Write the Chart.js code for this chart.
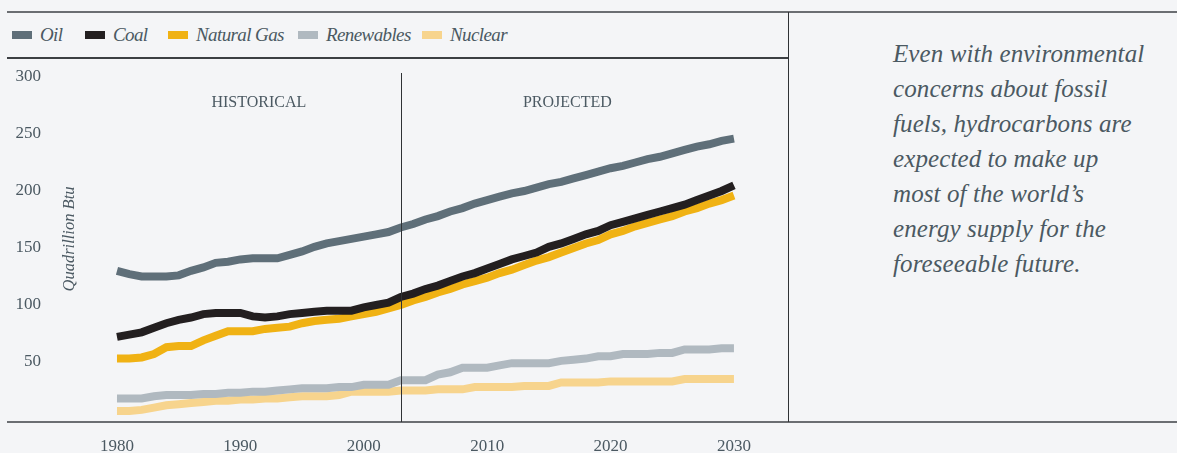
<!DOCTYPE html>
<html>
<head>
<meta charset="utf-8">
<script src="https://cdn.jsdelivr.net/npm/chart.js@4"></script>
<style>
  html, body { margin: 0; padding: 0; }
  body { width: 1177px; height: 453px; background: #f4f5f7; position: relative; overflow: hidden;
         font-family: "Liberation Serif", "DejaVu Serif", serif; color: #4b5962; }
  .rule { position: absolute; background: #6b6e72; }
  #legend { position: absolute; left: 0; top: 24px; height: 22px; width: 788px;
            font-style: italic; font-size: 19px; white-space: nowrap; }
  #legend .item { position: absolute; top: 0; display: flex; align-items: center; height: 22px; letter-spacing: -0.6px; }
  #legend .sw { width: 20px; height: 8px; margin-right: 8px; }
  #chartBox { position: absolute; left: 0; top: 0; width: 788px; height: 453px; }
  #note { position: absolute; left: 893px; top: 36px; font-style: italic; font-size: 25px;
          line-height: 35px; white-space: nowrap; color: #4b5962; letter-spacing: 0.1px; }
</style>
</head>
<body>
<div class="rule" style="left:7px; top:11px; width:1170px; height:2px;"></div>
<div class="rule" style="left:7px; top:57px; width:781px; height:2px; background:#3c3f43;"></div>
<div class="rule" style="left:7px; top:421px; width:1170px; height:2px;"></div>
<div class="rule" style="left:788px; top:12px; width:1px; height:410px; background:#2f3235;"></div>

<div id="legend"></div>
<div id="chartBox"><canvas id="energyChart" width="788" height="453"></canvas></div>
<div id="note">Even with environmental<br>concerns about fossil<br>fuels, hydrocarbons are<br>expected to make up<br>most of the world’s<br>energy supply for the<br>foreseeable future.</div>

<script>
// years 1980 - 2030
const years = [];
for (let y = 1980; y <= 2030; y++) years.push(y);

const seriesNames = ['Oil', 'Coal', 'Natural Gas', 'Renewables', 'Nuclear'];
const seriesColors = ['#5f6f79', '#231f20', '#f0b214', '#b0b9c0', '#f7d48d'];

const oil = [130, 127, 125, 125, 125, 126, 130, 133, 137, 138,
             140, 141, 141, 141, 144, 147, 151, 154, 156, 158,
             160, 162, 164, 168, 171, 175, 178, 182, 185, 189,
             192, 195, 198, 200, 203, 206, 208, 211, 214, 217,
             220, 222, 225, 228, 230, 233, 236, 239, 241, 244, 246];
const coal = [72, 74, 76, 80, 84, 87, 89, 92, 93, 93,
              93, 90, 89, 90, 92, 93, 94, 95, 95, 95,
              98, 100, 102, 107, 110, 114, 117, 121, 125, 128,
              132, 136, 140, 143, 146, 151, 154, 158, 162, 165,
              170, 173, 176, 179, 182, 185, 188, 192, 196, 200, 205];
const naturalGas = [53, 53, 54, 57, 63, 64, 64, 69, 73, 77,
                    77, 77, 79, 80, 81, 84, 86, 87, 88, 90,
                    92, 94, 97, 100, 104, 107, 111, 114, 118, 121,
                    124, 128, 131, 135, 139, 142, 146, 150, 154, 157,
                    162, 165, 169, 172, 175, 178, 182, 185, 189, 192, 196];
const renewables = [18, 18, 18, 20, 21, 21, 21, 22, 22, 23,
                    23, 24, 24, 25, 26, 27, 27, 27, 28, 28,
                    30, 30, 30, 34, 34, 34, 39, 41, 45, 45,
                    45, 47, 49, 49, 49, 49, 51, 52, 53, 55,
                    55, 57, 57, 57, 58, 58, 61, 61, 61, 62, 62];
const nuclear = [7, 7, 8, 10, 12, 13, 14, 15, 16, 16,
                 17, 17, 18, 18, 19, 20, 20, 20, 21, 24,
                 24, 24, 24, 25, 25, 25, 26, 26, 26, 28,
                 28, 28, 28, 29, 29, 29, 32, 32, 32, 32,
                 33, 33, 33, 33, 33, 33, 35, 35, 35, 35, 35];

const xTicks = [1980, 1990, 2000, 2010, 2020, 2030];
const yTicks = [50, 100, 150, 200, 250, 300];
const splitYear = 2003;
const periodLabels = ['HISTORICAL', 'PROJECTED'];
const yTitle = 'Quadrillion Btu';

const allSeries = [oil, coal, naturalGas, renewables, nuclear];

// html legend, items placed where the original has them
const legendLeft = [12, 85, 168, 298, 422];
const legend = document.getElementById('legend');
seriesNames.forEach((name, i) => {
  const item = document.createElement('div');
  item.className = 'item';
  item.style.left = legendLeft[i] + 'px';
  item.innerHTML = '<span class="sw" style="background:' + seriesColors[i] + '"></span><span>' + name + '</span>';
  legend.appendChild(item);
});

const textColor = '#4b5962';
const serif = '"Liberation Serif", "DejaVu Serif", serif';

const annotations = {
  id: 'annotations',
  afterDatasetsDraw(chart) {
    const { ctx, chartArea, scales } = chart;
    const xs = scales.x;
    const splitX = Math.round(xs.getPixelForValue(splitYear)) + 0.5;
    ctx.save();
    ctx.strokeStyle = '#2f3235';
    ctx.lineWidth = 1;
    ctx.beginPath();
    ctx.moveTo(splitX, 73);
    ctx.lineTo(splitX, 422);
    ctx.stroke();

    ctx.fillStyle = textColor;
    ctx.font = '16px ' + serif;
    ctx.textAlign = 'center';
    ctx.textBaseline = 'middle';
    ctx.fillText(periodLabels[0], xs.getPixelForValue((years[0] + splitYear) / 2), 103);
    ctx.fillText(periodLabels[1], xs.getPixelForValue((splitYear + years[years.length - 1]) / 2), 103);

    ctx.translate(chartArea.left + 22, 239);
    ctx.rotate(-Math.PI / 2);
    ctx.font = 'italic 16.5px ' + serif;
    ctx.fillText(yTitle, 0, 0);
    ctx.restore();
  }
};

new Chart(document.getElementById('energyChart'), {
  type: 'line',
  data: {
    datasets: seriesNames.map((name, i) => ({
      label: name,
      data: years.map((yr, j) => ({ x: yr, y: allSeries[i][j] })),
      borderColor: seriesColors[i],
      backgroundColor: seriesColors[i],
      borderWidth: 8,
      pointRadius: 0,
      tension: 0,
      fill: false
    }))
  },
  options: {
    responsive: false,
    animation: false,
    devicePixelRatio: 1,
    layout: { padding: { top: 77, left: 0, right: 0, bottom: 0 } },
    plugins: { legend: { display: false }, tooltip: { enabled: false } },
    scales: {
      x: {
        type: 'linear',
        min: 1974.41,
        max: 2034.38,
        afterBuildTicks: s => { s.ticks = xTicks.map(v => ({ value: v })); },
        afterFit: s => { s.height = 34; },
        grid: { display: false, drawTicks: false },
        border: { display: false },
        ticks: {
          padding: 17,
          color: textColor,
          font: { family: serif, size: 17 },
          callback: v => String(v),
          maxRotation: 0
        }
      },
      y: {
        min: 0,
        max: 300,
        afterBuildTicks: s => { s.ticks = yTicks.map(v => ({ value: v })); },
        afterFit: s => { s.width = 48; },
        grid: { display: false, drawTicks: false },
        border: { display: false },
        ticks: {
          padding: 7,
          color: textColor,
          font: { family: serif, size: 17 }
        }
      }
    }
  },
  plugins: [annotations]
});
</script>
</body>
</html>
